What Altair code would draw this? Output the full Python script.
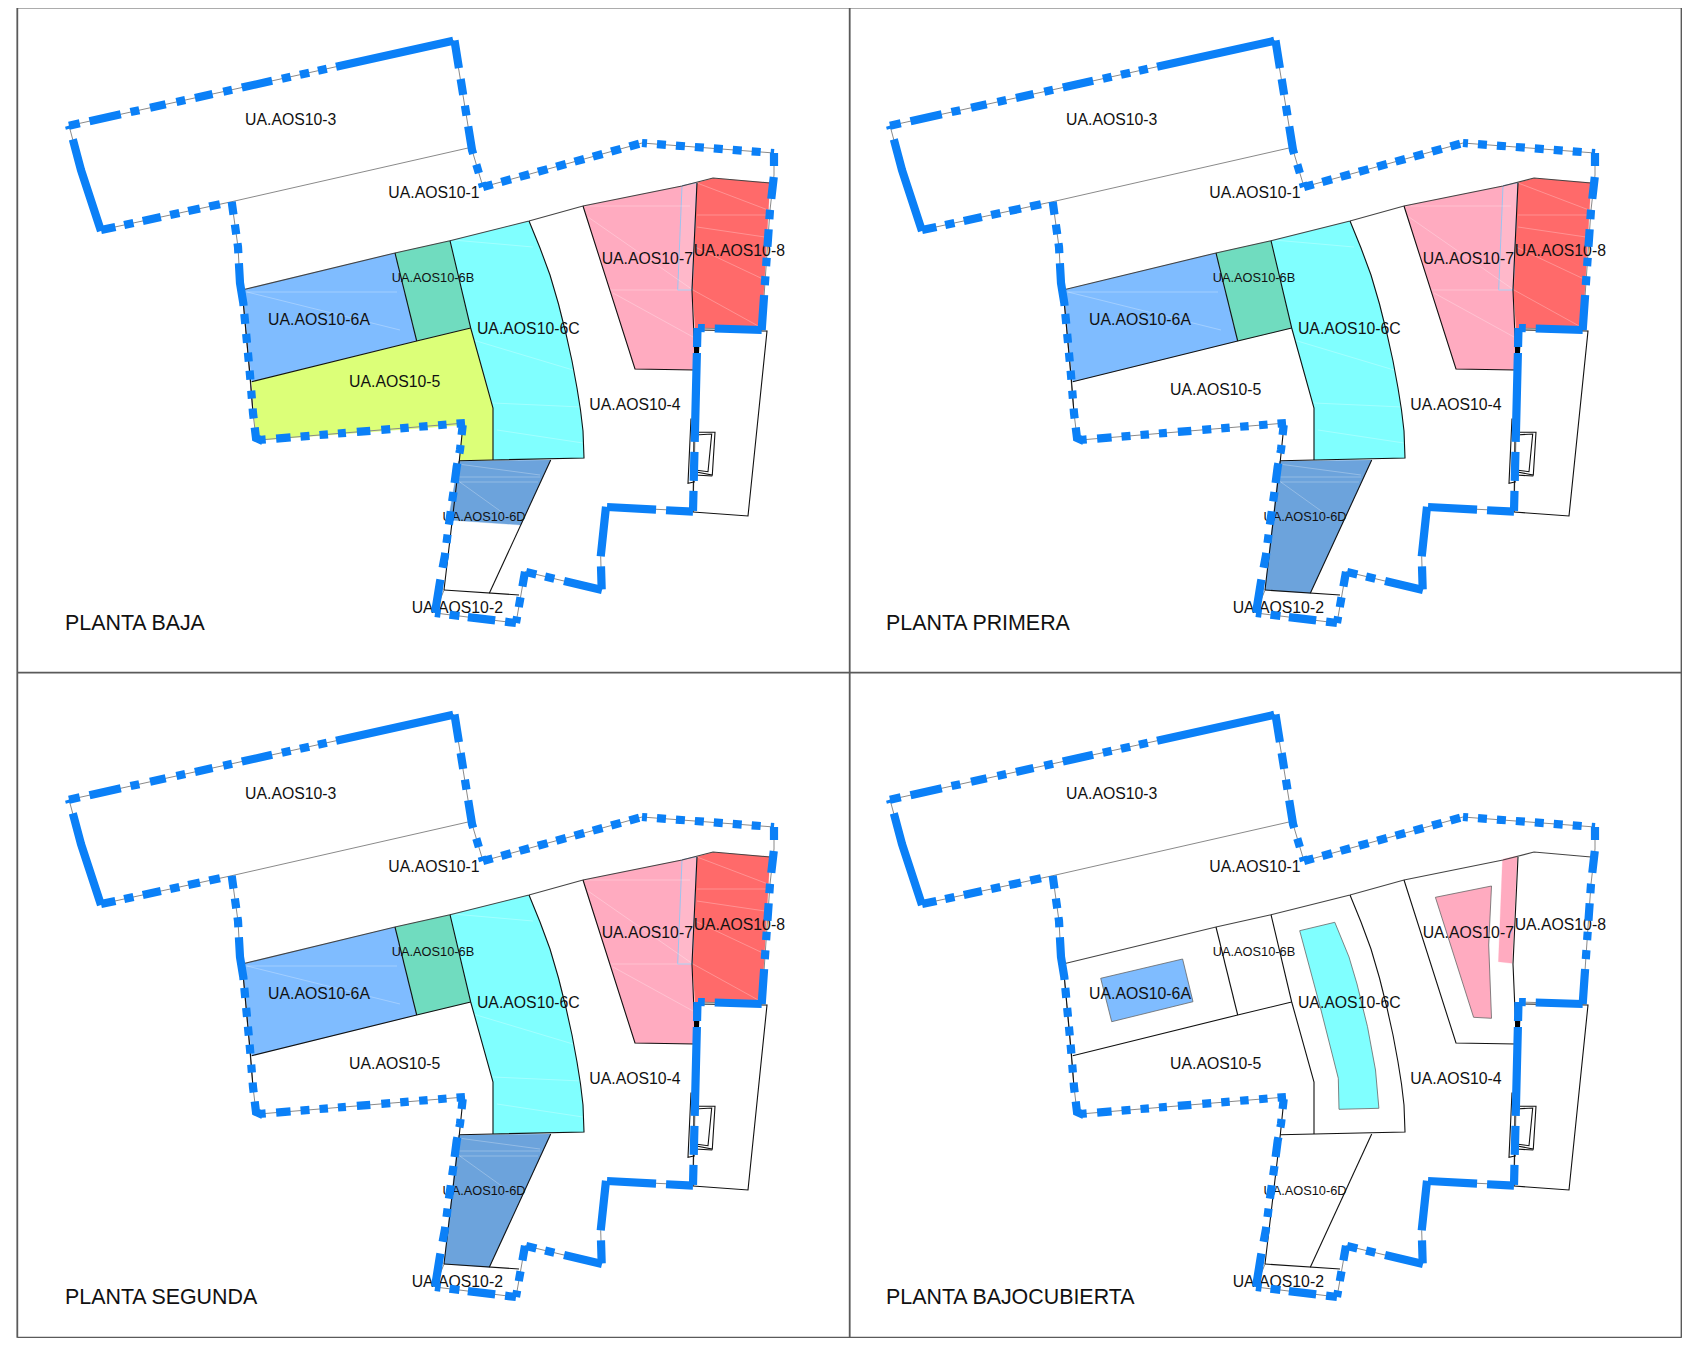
import altair as alt
import pandas as pd

# Drawing coordinates (first panel, in picture units)
DX, DY = 821, 674
FRAME_H = [[17.3, 7.5, 1681.5, 7.5], [17.3, 672.7, 1681.5, 672.7], [17.3, 1337.7, 1681.5, 1337.7]]
FRAME_V = [[17.3, 7.5, 17.3, 1337.7], [849.7, 7.5, 849.7, 1337.7], [1681.5, 7.5, 1681.5, 1337.7]]

CURVE_6C = [(529, 221), (540, 248), (550, 275), (558.5, 304), (566, 334), (572, 361), (577, 388), (580.5, 410), (583, 431), (584, 458)]
ZONE_6A = [(242, 290), (395, 253), (416.7, 341), (251.7, 381.7)]
ZONE_6B = [(395, 253), (450, 240.7), (470.7, 328), (416.7, 341)]
ZONE_6C = [(450, 240.7)] + CURVE_6C + [(493, 460), (493, 408), (470.7, 328)]
ZONE_5 = [(251.7, 381.7), (470.7, 328), (493, 408), (493, 460), (459.3, 460.7), (463, 425), (263, 440), (255, 430)]
ZONE_6D_SHORT = [(458.3, 461.3), (550.7, 460), (520.7, 525), (448.3, 520)]
ZONE_6D_FULL = [(458.3, 461.3), (550.7, 460), (489.3, 593.3), (444, 590)]
ZONE_7 = [(583, 206), (682, 186), (697, 183), (692, 290), (695, 370), (635, 369)]
ZONE_8 = [(696.7, 182.7), (713.3, 178.3), (770, 182.7), (761.7, 330), (695, 328), (692.3, 290)]
STRIP = [(682, 185.7), (696.7, 182.7), (692.3, 290), (677.7, 290)]
SMALL_6A = [(279.7, 304.3), (361.6, 285), (372, 327.7), (290.7, 347.7)]
SMALL_6C = [(478.7, 256.7), (513.8, 248.3), (528, 283), (536, 310), (546.5, 352.7), (554.5, 396), (557.9, 434.3), (518, 435.3), (517.3, 404.3), (500, 336)]
SMALL_7 = [(614.4, 223.3), (670.5, 212), (667.7, 271), (670.5, 344.3), (652.6, 343.3)]
SMALL_STRIP = [(681.5, 185.3), (696.3, 182), (691, 289.3), (677.4, 287.7)]

C_6A, C_6B, C_6C, C_5, C_6D, C_7, C_8, C_STRIP = "#7fbcff", "#70dcbf", "#80ffff", "#dcff78", "#6ca3dc", "#ffabc0", "#ff6a6a", "#ffb8ca"

PANEL_FILLS = [
    [(ZONE_6A, C_6A), (ZONE_6B, C_6B), (ZONE_6C, C_6C), (ZONE_5, C_5), (ZONE_6D_SHORT, C_6D), (ZONE_7, C_7), (ZONE_8, C_8), (STRIP, C_STRIP)],
    [(ZONE_6A, C_6A), (ZONE_6B, C_6B), (ZONE_6C, C_6C), (ZONE_6D_FULL, C_6D), (ZONE_7, C_7), (ZONE_8, C_8), (STRIP, C_STRIP)],
    [(ZONE_6A, C_6A), (ZONE_6B, C_6B), (ZONE_6C, C_6C), (ZONE_6D_FULL, C_6D), (ZONE_7, C_7), (ZONE_8, C_8), (STRIP, C_STRIP)],
    [(SMALL_6A, C_6A), (SMALL_6C, C_6C), (SMALL_7, C_7), (SMALL_STRIP, C_7)],
]
PANEL_OFFSETS = [(0, 0), (DX, 0), (0, DY), (DX, DY)]
PANEL_TITLES = ["PLANTA BAJA", "PLANTA PRIMERA", "PLANTA SEGUNDA", "PLANTA BAJOCUBIERTA"]
TITLE_XY = (65, 624)
LABEL_5_Y = [382.3, 389.5, 389.5, 389.5]

# faint white hatch traces inside the filled zones
HATCH_LINES = [
    [(697, 183), (768, 210)], [(697, 215), (767, 215)], [(697, 227), (765, 237)], [(695, 247), (765, 280)], [(693, 290), (760, 327)],
    [(583, 206), (690, 206)], [(588, 217), (693, 290)], [(607, 290), (692, 290)], [(613, 293), (693, 337)],
    [(458, 464), (540, 475)], [(458, 477), (540, 477)], [(460, 482), (538, 482)], [(457, 480), (503, 513)],
    [(453, 240), (533, 247)], [(473, 340), (573, 370)], [(493, 403), (582, 407)], [(497, 430), (583, 443)],
    [(245, 292), (397, 292)], [(247, 292), (400, 330)],
]

GREY_LINES = [[(231.7, 201.7), (468, 148)]]
DARK_LINES = [
    [(242, 290), (395, 253), (450, 240.7), (529, 221), (583, 206), (682, 186), (713, 178), (770, 183)],
]
BLACK_LINES = [
    [(395, 253), (416.7, 341)],
    [(450, 240.7), (470.7, 328), (493, 408), (493, 460)],
    [(251.7, 381.7), (416.7, 341), (470.7, 328)],
    CURVE_6C + [(493, 460), (459.3, 460.7)],
    [(550.7, 460), (489.3, 593.3)],
    [(444, 590), (519, 595)],
    [(583, 206), (635, 369), (695, 370)],
    [(243.3, 303), (250, 375), (253, 413)],
    [(463, 425), (459.3, 460.7), (444, 590)],
    [(697, 183), (692, 290), (695, 360), (693, 512)],
    [(698, 330), (767, 331), (748, 516), (693, 512)],
    [(691, 418.5), (688, 483.3), (695, 481.7)],
    [(698.3, 432.3), (715, 432.3), (712.3, 475), (695, 471.7)],
    [(695, 435), (711.7, 434), (708, 471.7), (695, 470)],
    [(695, 475), (712.3, 476)],
]
THICK_BLACK = [(697, 343), (696.5, 353)]

# boundary: each run of vertices with its own dash list
BOUNDARY = [
    ([(69, 125.7), (454, 40.7)], [11, 10, 32, 10, 9, 11, 16, 11, 9, 10, 18, 11, 9, 10, 31, 10, 9, 9.5, 9.5, 9, 9, 9.5, 120]),
    ([(454.5, 40.5), (472, 150), (483, 187)], [28, 11, 16, 11, 10, 11, 28, 11, 9, 10, 7]),
    ([(483, 187), (642, 143)], [10, 9]),
    ([(642, 143), (774, 153)], [5, 10, 9, 10, 9, 10, 9, 10, 9, 10, 9, 10, 9, 10, 5]),
    ([(774, 153), (774, 175), (770, 210), (761.7, 330)], [13, 11, 22, 11, 9.5, 10, 17.5, 11, 8.5, 10, 9, 10, 38]),
    ([(761.7, 330), (698, 328)], [47, 10, 10]),
    ([(697.5, 328), (693, 511)], [19, 6, 89, 10, 29, 10, 20]),
    ([(693, 511.7), (607, 507)], [27, 10, 53]),
    ([(606, 506.7), (600.7, 556.7), (601.7, 590)], [50, 10, 23]),
    ([(602, 590), (525, 571.7)], [39, 10, 9.5, 9, 10.5]),
    ([(525, 571.7), (516, 623)], [15, 11, 10, 9.5, 10]),
    ([(516, 623), (435, 613)], [11, 10, 27.5, 8.5, 10, 9, 8.5]),
    ([(435, 613), (440, 581.7), (445, 555), (447.3, 536.7), (450, 516.7), (453.3, 493.3), (456.7, 466.7), (460, 450), (462.7, 425)], [34, 12, 15, 10, 8.5, 10, 13.5, 10, 9.5, 9, 20, 10, 8.5, 10, 13.5]),
    ([(465, 423), (259, 440)], [8.5, 10, 8.5, 10.5, 8.5, 10.5, 8.5, 10, 9, 11, 13.5, 11, 8, 10, 8.5, 10, 9, 10, 14.5, 10.5, 4]),
    ([(231.7, 201.7), (238, 247), (240, 283), (243.3, 303), (250, 375), (253, 413), (256, 438), (263, 441)], [13, 10, 10, 9, 10, 10, 43, 8, 10, 10, 9, 10, 9, 9, 9, 11, 8, 10, 10, 9, 18, 0]),
    ([(231.7, 201.7), (101, 230)], [0, 12, 11, 9.5, 12, 9, 9.5, 9.5, 18.5, 9.5, 9.5, 9, 15]),
    ([(101, 231), (81, 170), (73, 140), (69, 125.7)], [96, 11, 6]),
]
OUTLINE = [(69, 125.7), (454, 40.7), (472, 150), (483, 187), (642, 143), (774, 153), (774, 175), (770, 210), (761.7, 330),
           (698, 328), (693, 511), (607, 507), (600.7, 556.7), (601.7, 590), (525, 571.7), (516, 623), (435, 613), (444, 590)]
OUTLINE_2 = [(465, 423), (259, 440), (256, 438), (253, 413), (243.3, 303), (240, 283), (238, 247), (231.7, 201.7), (101, 230), (81, 170), (69, 125.7)]

LABELS = ["UA.AOS10-3", "UA.AOS10-1", "UA.AOS10-6A", "UA.AOS10-6C", "UA.AOS10-4", "UA.AOS10-7", "UA.AOS10-8", "UA.AOS10-2"]
LABEL_X = [290.7, 434, 319, 528.3, 635, 647.3, 739.3, 457.3]
LABEL_Y = [120, 193.3, 320, 329, 405, 259.3, 251, 608.3]
LABEL_5 = "UA.AOS10-5"
LABEL_5_X = 394.7
SMALL_LABELS = ["UA.AOS10-6B", "UA.AOS10-6D"]
SMALL_X = [433, 484]
SMALL_Y = [277.7, 516.7]

X = alt.X("x:Q", scale=alt.Scale(domain=[8, 1682], nice=False, zero=False), axis=None)
Y = alt.Y("y:Q", scale=alt.Scale(domain=[1338, 8], nice=False, zero=False), axis=None)


def frame(pts, off=(0, 0)):
    return pd.DataFrame({"x": [p[0] + off[0] for p in pts], "y": [p[1] + off[1] for p in pts], "i": range(len(pts))})


def line(pts, off=(0, 0), **kw):
    return alt.Chart(frame(pts, off)).mark_line(**kw).encode(x=X, y=Y, order="i:Q")


layers = []
for seg in FRAME_H + FRAME_V:
    layers.append(line([(seg[0], seg[1]), (seg[2], seg[3])], stroke="#5a5a5a", strokeWidth=1.8))

for idx, (off, fills, title) in enumerate(zip(PANEL_OFFSETS, PANEL_FILLS, PANEL_TITLES)):
    for poly, col in fills:
        ring = poly + [poly[0]]
        small = poly in (SMALL_6A, SMALL_6C, SMALL_7)
        layers.append(line(ring, off, fill=col, stroke="#666666" if small else col,
                           strokeWidth=0.8 if small else 0.3))
    if fills[-1][0] is STRIP:
        ring = STRIP + [STRIP[0]]
        layers.append(line(ring, off, stroke="#9cc4f0", strokeWidth=1))
        for pts in HATCH_LINES:
            layers.append(line(pts, off, stroke="#ffffff", strokeWidth=0.9, opacity=0.3))
    for pts in GREY_LINES:
        layers.append(line(pts, off, stroke="#8a8a8a", strokeWidth=1))
    layers.append(line(OUTLINE, off, stroke="#8a8a8a", strokeWidth=1))
    layers.append(line(OUTLINE_2, off, stroke="#8a8a8a", strokeWidth=1))
    for pts in DARK_LINES:
        layers.append(line(pts, off, stroke="#444444", strokeWidth=1.1))
    for pts in BLACK_LINES:
        layers.append(line(pts, off, stroke="#111111", strokeWidth=1.1))
    layers.append(line(THICK_BLACK, off, stroke="#000000", strokeWidth=5))

    lab = pd.DataFrame({"x": [v + off[0] for v in LABEL_X] + [LABEL_5_X + off[0]],
                        "y": [v + off[1] for v in LABEL_Y] + [LABEL_5_Y[idx] + off[1]],
                        "t": LABELS + [LABEL_5]})
    layers.append(alt.Chart(lab).mark_text(font="Liberation Sans", fontSize=15.8, color="#111111", align="center", baseline="middle").encode(x=X, y=Y, text="t:N"))
    sm = pd.DataFrame({"x": [v + off[0] for v in SMALL_X], "y": [v + off[1] for v in SMALL_Y], "t": SMALL_LABELS})
    layers.append(alt.Chart(sm).mark_text(font="Liberation Sans", fontSize=12.8, color="#111111", align="center", baseline="middle").encode(x=X, y=Y, text="t:N"))
    tt = pd.DataFrame({"x": [TITLE_XY[0] + off[0]], "y": [TITLE_XY[1] + off[1]], "t": [title]})
    layers.append(alt.Chart(tt).mark_text(font="Liberation Sans", fontSize=21.4, color="#111111", align="left", baseline="middle").encode(x=X, y=Y, text="t:N"))

    for pts, dash in BOUNDARY:
        layers.append(line(pts, off, stroke="#0b80f7", strokeWidth=8.2, strokeDash=dash))

chart = alt.layer(*layers).properties(width=1674, height=1330, padding=0, background="white",
                                      autosize=alt.AutoSizeParams(type="none")).configure_view(stroke=None)
chart.save("out.html", embed_options={"renderer": "svg", "actions": False})
